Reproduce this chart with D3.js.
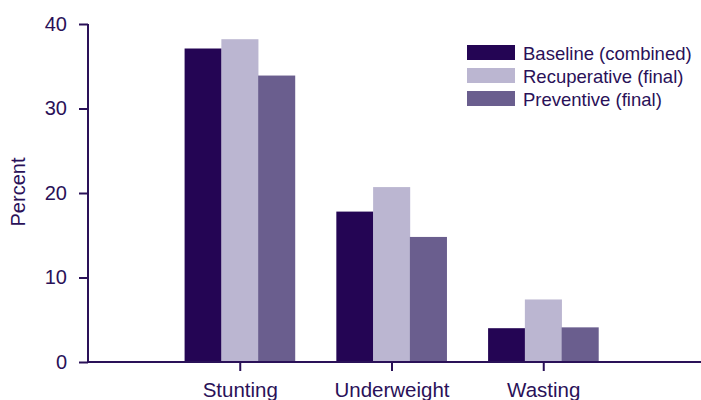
<!DOCTYPE html>
<html>
<head>
<meta charset="utf-8">
<script src="https://cdn.jsdelivr.net/npm/d3@7"></script>
<style>
  html, body { margin: 0; padding: 0; background: #fff; }
  svg { display: block; font-family: "Liberation Sans", Arial, sans-serif; }
</style>
</head>
<body>
<svg id="chart" width="701" height="400"></svg>
<script>
// data
const categories = ["Stunting", "Underweight", "Wasting"];
const seriesNames = ["Baseline (combined)", "Recuperative (final)", "Preventive (final)"];
const baseline = [37.1, 17.8, 4.0];
const recuperative = [38.2, 20.7, 7.4];
const preventive = [33.9, 14.8, 4.1];
const yTicks = [0, 10, 20, 30, 40];

const colors = ["#240554", "#bbb6d1", "#6a5e8e"];
const ink = "#2a1158";
const values = [baseline, recuperative, preventive];

const svg = d3.select("#chart");
const axisX = 88, axisY0 = 362, axisY1 = 24;

// x: category i sits at slot i+1 of [0,4]
const x = d3.scaleLinear().domain([0, 4]).range([axisX, 695]);
const slot = x(1) - x(0);
const groupW = slot * 0.727;
const sub = d3.scaleBand().domain(d3.range(seriesNames.length)).range([-groupW / 2, groupW / 2]);
const y = d3.scaleLinear().domain([0, 40]).range([axisY0, axisY1]);

// bars
const groups = svg.append("g").selectAll("g")
  .data(categories).join("g")
  .attr("transform", (d, i) => `translate(${x(i + 1)},0)`);

groups.selectAll("rect")
  .data((d, i) => values.map((s, k) => ({ k, v: s[i] })))
  .join("rect")
  .attr("x", d => sub(d.k))
  .attr("width", sub.bandwidth() + 0.3)
  .attr("y", d => y(d.v))
  .attr("height", d => y(0) - y(d.v))
  .attr("fill", d => colors[d.k]);

// y axis
const yAxis = svg.append("g")
  .attr("transform", `translate(${axisX},0)`)
  .call(d3.axisLeft(y).tickValues(yTicks).tickSize(9).tickPadding(12));
yAxis.select(".domain").attr("d", `M0,${axisY1}V${axisY0}`);
yAxis.selectAll("line, path").attr("stroke", ink).attr("stroke-width", 2);
yAxis.selectAll("text").attr("fill", ink).style("font-size", "20px")
  .style("font-family", "Liberation Sans, Arial, sans-serif");

// x axis
const xAxis = svg.append("g")
  .attr("transform", `translate(0,${axisY0})`)
  .call(d3.axisBottom(x).tickValues([1, 2, 3]).tickSize(9).tickPadding(11.5)
    .tickFormat(d => categories[d - 1]));
xAxis.select(".domain").attr("d", `M${axisX},0H701`);
xAxis.selectAll("line, path").attr("stroke", ink).attr("stroke-width", 2);
xAxis.selectAll("text").attr("fill", ink).style("font-size", "20.5px")
  .style("font-family", "Liberation Sans, Arial, sans-serif");

// y title
svg.append("text")
  .attr("transform", `translate(25,192) rotate(-90)`)
  .attr("text-anchor", "middle")
  .attr("fill", ink)
  .style("font-size", "20px")
  .text("Percent");

// legend
const legend = svg.append("g").attr("transform", "translate(467,45)");
const rows = legend.selectAll("g").data(seriesNames).join("g")
  .attr("transform", (d, i) => `translate(0,${i * 23})`);
rows.append("rect").attr("width", 48).attr("height", 15).attr("fill", (d, i) => colors[i]);
rows.append("text").attr("x", 56).attr("y", 14.5)
  .attr("fill", ink).style("font-size", "18.5px").text(d => d);
</script>
</body>
</html>
